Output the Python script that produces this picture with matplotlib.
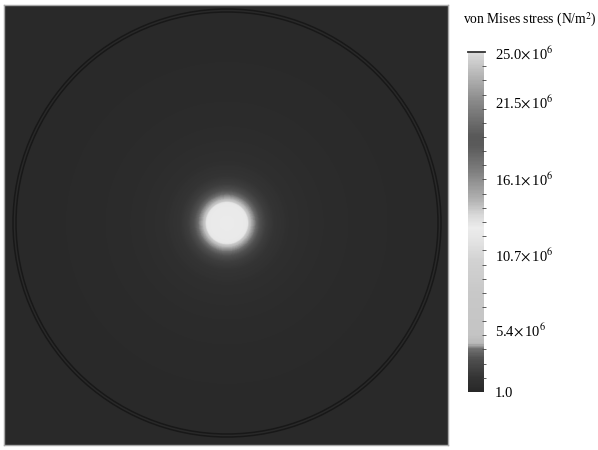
import matplotlib
matplotlib.use("Agg")
import matplotlib.pyplot as plt
import numpy as np
from matplotlib.colors import LinearSegmentedColormap, Normalize
from matplotlib.patches import Circle

plt.rcParams['font.family'] = ['Liberation Serif', 'DejaVu Serif']
plt.rcParams['mathtext.fontset'] = 'stix'

# field size (px-like units) and geometry of the disc
width, height = 444, 440
cx, cy = 223, 222
ring_r = [211.0, 214.0]

# radial stress profile from the centre, x10^6 N/m^2
r_prof = [0, 10, 19, 21, 22.5, 24, 28, 33, 39, 48, 62, 90, 130, 180, 230, 330]
s_prof = [12.6, 12.5, 12.3, 11.8, 5.0, 4.4, 4.1, 3.3, 2.5, 2.0, 1.65, 1.4, 1.25, 1.15, 1.1, 1.1]

vmin, vmax = 1.0, 25.0
tick_vals = [1.0, 5.4, 10.7, 16.1, 21.5, 25.0]
tick_labels = ['1.0', r'5.4$\times\,$10$^6$', r'10.7$\times\,$10$^6$',
               r'16.1$\times\,$10$^6$', r'21.5$\times\,$10$^6$', r'25.0$\times\,$10$^6$']

# odd grey colour table of the original legend
cm_vals = [1.0, 2.0, 3.3, 4.0, 4.4, 5.0, 8.0, 10.3, 11.7, 12.6, 13.5, 14.5, 16.7, 18.4, 19.1, 21.6, 25.0]
cm_grey = [0x28, 0x34, 0x50, 0x70, 0xb8, 0xc4, 0xc8, 0xd2, 0xe4, 0xec, 0xd8, 0xb4, 0x7c, 0x5a, 0x59, 0x8a, 0xdc]
cmap = LinearSegmentedColormap.from_list(
    'vm', [((v - vmin) / (vmax - vmin), (g / 255, g / 255, g / 255)) for v, g in zip(cm_vals, cm_grey)])

xs = np.linspace(0, width, 700)
ys = np.linspace(0, height, 700)
X, Y = np.meshgrid(xs, ys)
R = np.hypot(X - cx, Y - cy)
field = np.interp(R, r_prof, s_prof)

fig = plt.figure(figsize=(5.98, 4.5), dpi=100)
ax = fig.add_axes([4 / 598, 1 - 445 / 450, 444 / 598, 440 / 450])
norm = Normalize(vmin, vmax)
im = ax.imshow(field, origin='lower', extent=[0, width, 0, height], cmap=cmap, norm=norm,
               interpolation='bilinear', aspect='auto')
for r in ring_r:
    ax.add_patch(Circle((cx, cy), r, fill=False, ec='#181818', lw=1.1))
ax.set_xlim(0, width)
ax.set_ylim(0, height)
ax.set_xticks([])
ax.set_yticks([])
for s in ax.spines.values():
    s.set_color('#a8a8a8')
    s.set_linewidth(1.0)

cax = fig.add_axes([467.5 / 598, 1 - 392 / 450, 16.5 / 598, 340 / 450])
cb = fig.colorbar(im, cax=cax)
cb.outline.set_visible(False)
cb.set_ticks(tick_vals)
cb.set_ticklabels(tick_labels)
cb.ax.yaxis.set_minor_locator(matplotlib.ticker.MultipleLocator(1.0))
cb.ax.tick_params(which='major', length=0, pad=8, labelsize=10.5)
cb.ax.tick_params(which='minor', length=2.5, width=0.6, direction='inout', color='#444444')
cax.axhline(vmax, xmin=0, xmax=1.05, color='#333333', lw=1.3, clip_on=False)

fig.text(463 / 598, 1 - 20 / 450, 'von Mises stress (N/m$^2$)', ha='left', va='center', fontsize=9.8)

fig.savefig('out.png', dpi=100)
